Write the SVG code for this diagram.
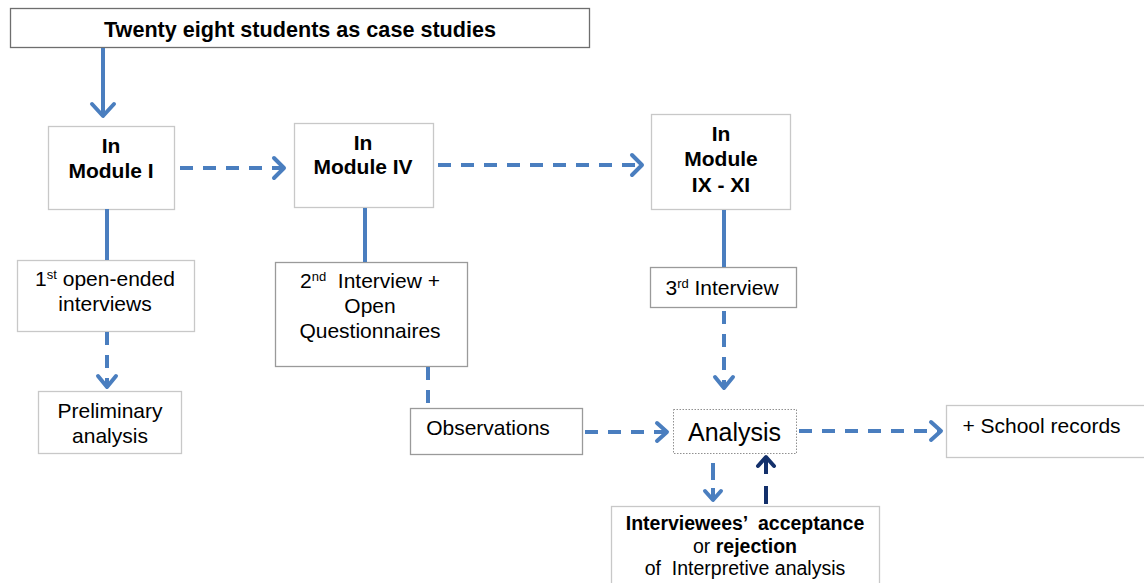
<svg xmlns="http://www.w3.org/2000/svg" width="1144" height="583" viewBox="0 0 1144 583">
<style>
.box{fill:#fff;stroke:#c8c8c8;stroke-width:1.3}
.dark{fill:#fff;stroke:#6e6e6e;stroke-width:1.3}
.mid{fill:#fff;stroke:#9a9a9a;stroke-width:1.3}
.dot{fill:#fff;stroke:#909090;stroke-width:1;stroke-dasharray:1.5 1.5}
.t{font-family:"Liberation Sans",Arial,sans-serif;fill:#000;text-anchor:middle;font-size:21px}
.b{font-weight:bold}
.c{fill:none;stroke:#4a7ebf;stroke-width:4}
.d{stroke-dasharray:13 10}
.h{fill:none;stroke:#4a7ebf;stroke-width:4;stroke-linecap:round;stroke-linejoin:round}
.n{stroke:#13306b}
.s{font-size:13px}
.sm{font-size:19.5px}
</style>
<g id="top">
<rect class="dark" x="10.5" y="8.5" width="579" height="39"/>
<text class="t b" x="300" y="37" style="font-size:21.6px">Twenty eight students as case studies</text>
</g>
<g id="m1">
<rect class="box" x="48.5" y="126.5" width="126" height="83"/>
<text class="t b" x="111" y="153">In</text>
<text class="t b" x="111" y="178">Module I</text>
</g>
<g id="m4">
<rect class="box" x="294.5" y="123.5" width="139" height="84"/>
<text class="t b" x="363" y="150">In</text>
<text class="t b" x="363" y="174">Module IV</text>
</g>
<g id="m9">
<rect class="box" x="651.5" y="114.5" width="139" height="95"/>
<text class="t b" x="721" y="141">In</text>
<text class="t b" x="721" y="166">Module</text>
<text class="t b" x="721" y="192">IX - XI</text>
</g>
<g id="i1">
<rect class="box" x="17.5" y="260.5" width="177" height="71"/>
<text class="t" x="105" y="286">1<tspan class="s" dy="-7">st</tspan><tspan dy="7"> open-ended</tspan></text>
<text class="t" x="105" y="311">interviews</text>
</g>
<g id="pre">
<rect class="box" x="38.5" y="391.5" width="143" height="62"/>
<text class="t" x="110" y="418">Preliminary</text>
<text class="t" x="110" y="443">analysis</text>
</g>
<g id="i2">
<rect class="mid" x="275.5" y="262.5" width="192" height="104"/>
<text class="t" x="370" y="288" xml:space="preserve">2<tspan class="s" dy="-7">nd</tspan><tspan dy="7">  Interview +</tspan></text>
<text class="t" x="370" y="313">Open</text>
<text class="t" x="370" y="338">Questionnaires</text>
</g>
<g id="obs">
<rect class="mid" x="410.5" y="408.5" width="172" height="46"/>
<text class="t" x="488" y="435">Observations</text>
</g>
<g id="i3">
<rect class="mid" x="650.5" y="267.5" width="146" height="40"/>
<text class="t" x="722" y="295">3<tspan class="s" dy="-7">rd</tspan><tspan dy="7"> Interview</tspan></text>
</g>
<g id="ana">
<rect class="dot" x="673.5" y="409.5" width="123" height="44"/>
<text class="t" x="734.5" y="441" style="font-size:25px">Analysis</text>
</g>
<g id="sch">
<rect class="box" x="946.5" y="405.5" width="200" height="52"/>
<text class="t" x="1041.5" y="433">+ School records</text>
</g>
<g id="acc">
<rect class="box" x="611.5" y="506.5" width="268" height="80"/>
<text class="t b sm" x="745" y="530" xml:space="preserve">Interviewees’  acceptance</text>
<text class="t sm" x="745" y="553">or <tspan font-weight="bold">rejection</tspan></text>
<text class="t sm" x="745" y="575" xml:space="preserve">of  Interpretive analysis</text>
</g>
<g id="connectors">
<line class="c" x1="103" y1="48" x2="103" y2="116"/>
<polyline class="h" points="92,104 103,116 114,104"/>
<line class="c d" x1="180" y1="168" x2="284" y2="168"/>
<polyline class="h" points="274,158 284,168 274,178"/>
<line class="c d" x1="438" y1="165" x2="642" y2="165"/>
<polyline class="h" points="632,155 642,165 632,175"/>
<line class="c" x1="107" y1="209" x2="107" y2="260"/>
<line class="c d" x1="107" y1="332" x2="107" y2="387"/>
<polyline class="h" points="98,376 107,387 116,376"/>
<line class="c" x1="365" y1="208" x2="365" y2="262"/>
<line class="c d" x1="428" y1="367" x2="428" y2="408"/>
<line class="c" x1="724" y1="210" x2="724" y2="267"/>
<line class="c d" x1="724" y1="311" x2="724" y2="388"/>
<polyline class="h" points="715,377 724,388 733,377"/>
<line class="c d" x1="585" y1="432" x2="667" y2="432"/>
<polyline class="h" points="657,423 667,432 657,441"/>
<line class="c d" x1="799" y1="431" x2="941" y2="431"/>
<polyline class="h" points="931,422 941,431 931,440"/>
<line class="c" x1="713" y1="463" x2="713" y2="480"/>
<line class="c" x1="713" y1="488" x2="713" y2="499"/>
<polyline class="h" points="705,491 713,500 721,491"/>
<line class="c n" x1="766" y1="504" x2="766" y2="486"/>
<line class="c n" x1="766" y1="474" x2="766" y2="457"/>
<polyline class="h n" points="758,466 766,457 774,466"/>
</g>
</svg>
